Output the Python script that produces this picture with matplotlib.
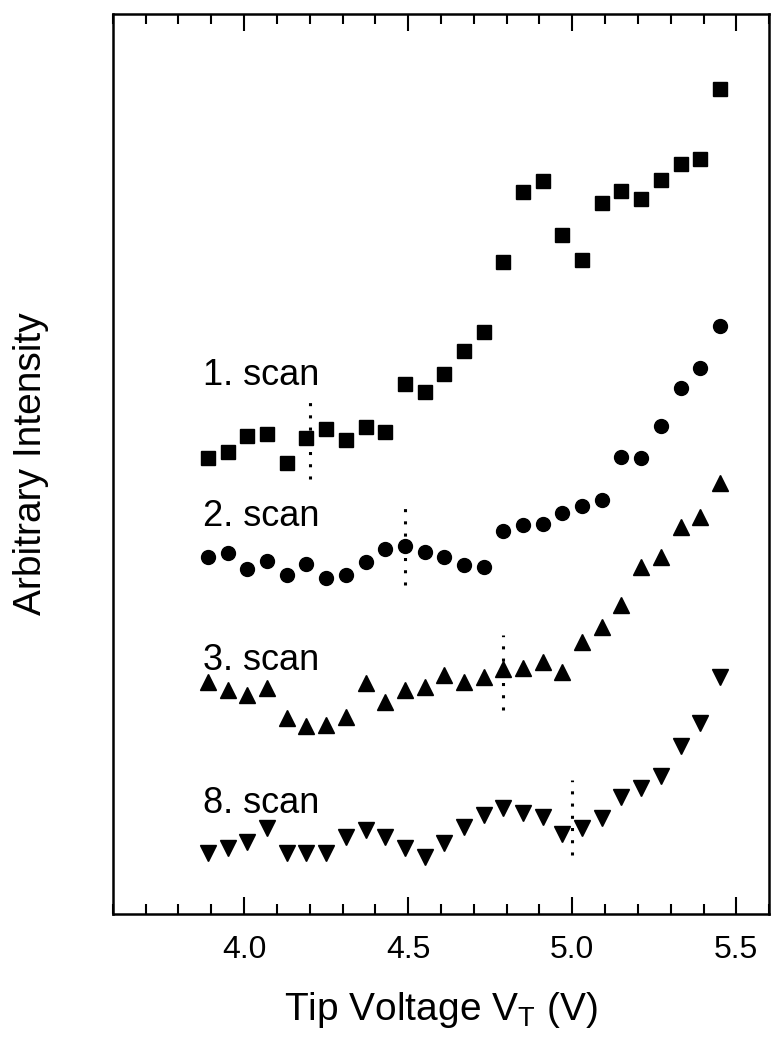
import matplotlib
matplotlib.use("Agg")
import matplotlib.pyplot as plt
from matplotlib.ticker import MultipleLocator

plt.rcParams['font.family'] = ['Liberation Sans', 'DejaVu Sans']

# tip voltage steps (V), shared by all scans
volts = [3.89, 3.95, 4.01, 4.07, 4.13, 4.19, 4.25, 4.31, 4.37, 4.43,
         4.49, 4.55, 4.61, 4.67, 4.73, 4.79, 4.85, 4.91, 4.97, 5.03,
         5.09, 5.15, 5.21, 5.27, 5.33, 5.39, 5.45]

# intensities (arb. units, curves offset vertically)
scan1 = [50.7, 51.3, 53.1, 53.3, 50.1, 52.9, 53.9, 52.7, 54.1, 53.6,
         58.9, 58.0, 60.0, 62.6, 64.7, 72.4, 80.2, 81.4, 75.4, 72.7,
         79.0, 80.3, 79.4, 81.6, 83.3, 83.9, 91.7]
scan2 = [39.7, 40.1, 38.3, 39.2, 37.7, 38.9, 37.4, 37.7, 39.1, 40.6,
         40.9, 40.2, 39.7, 38.8, 38.6, 42.6, 43.2, 43.4, 44.6, 45.3,
         46.0, 50.8, 50.7, 54.2, 58.4, 60.7, 65.3]
scan3 = [25.8, 24.9, 24.3, 25.1, 21.8, 20.9, 21.0, 21.9, 25.7, 23.6,
         24.9, 25.2, 26.6, 25.8, 26.3, 27.2, 27.4, 28.0, 26.9, 30.2,
         31.9, 34.3, 38.6, 39.7, 43.0, 44.1, 47.9]
scan8 = [6.8, 7.4, 8.0, 9.6, 6.8, 6.8, 6.8, 8.6, 9.3, 8.6,
         7.4, 6.3, 7.9, 9.7, 11.0, 11.8, 11.2, 10.8, 8.9, 9.6,
         10.7, 13.0, 14.0, 15.4, 18.7, 21.2, 26.3]

scan_names = ['1. scan', '2. scan', '3. scan', '8. scan']
# onset voltage marked by dotted line, with its vertical extent
onset_v = [4.20, 4.49, 4.79, 5.00]
onset_lo = [48.4, 36.6, 22.7, 6.6]
onset_hi = [56.9, 45.1, 31.0, 14.9]
label_y = [59.8, 44.2, 28.2, 12.3]

fig = plt.figure(figsize=(7.73, 10.40), dpi=100)
ax = fig.add_axes([0.146, 0.121, 0.849, 0.8655])

ax.plot(volts, scan1, 's', color='black', markersize=10)
ax.plot(volts, scan2, 'o', color='black', markersize=10)
ax.plot(volts, scan3, '^', color='black', markersize=12)
ax.plot(volts, scan8, 'v', color='black', markersize=12)

ax.vlines(onset_v, onset_lo, onset_hi, colors='black', linestyles=(0, (1, 3)), linewidth=2.2)

for name, y in zip(scan_names, label_y):
    ax.text(3.875, y, name, fontsize=26, ha='left', va='center')

ax.set_xlim(3.6, 5.6)
ax.set_ylim(0, 100)
ax.xaxis.set_major_locator(MultipleLocator(0.5))
ax.xaxis.set_minor_locator(MultipleLocator(0.1))
ax.xaxis.set_major_formatter(plt.FormatStrFormatter('%.1f'))
ax.set_yticks([])
ax.tick_params(axis='x', which='both', direction='in', top=True, width=1.5,
               labelsize=23, pad=15)
ax.tick_params(axis='x', which='major', length=12)
ax.tick_params(axis='x', which='minor', length=7)
for sp in ax.spines.values():
    sp.set_linewidth(1.8)

ax.set_xlabel('Tip Voltage V$_\\mathregular{T}$ (V)', fontsize=28, labelpad=18)
ax.set_ylabel('Arbitrary Intensity', fontsize=28, labelpad=46)

fig.savefig('out.png', dpi=100)
